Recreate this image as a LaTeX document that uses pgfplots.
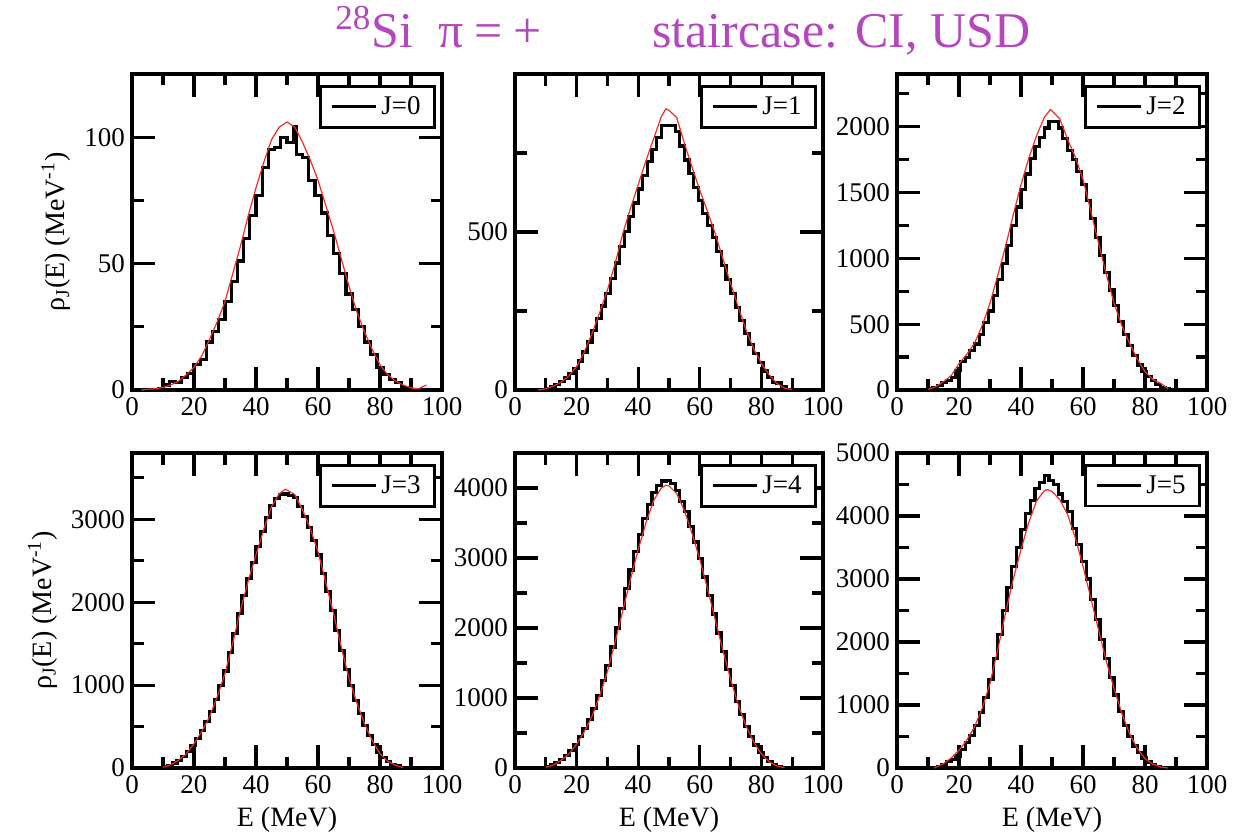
\documentclass[border=0pt]{standalone}
\usepackage{pgfplots}
\pgfplotsset{compat=1.18}
\usepackage{fontspec}
\setmainfont{Liberation Serif}
\definecolor{titlec}{RGB}{180,70,190}
\definecolor{curvered}{RGB}{240,45,35}
\pgfplotsset{
 panel/.style={
  scale only axis, width=155pt, height=158pt, anchor=south west,
  xmin=0, xmax=100, xtick={0,20,...,100}, minor x tick num=1,
  tick align=inside, major tick length=11.5pt, minor tick length=5.75pt,
  every tick/.style={black, line width=1.6pt},
  axis line style={line width=1.6pt},
  tick label style={font=\fontsize{13.5}{15}\selectfont},
  label style={font=\fontsize{14}{16}\selectfont},
  /pgf/number format/assume math mode=true,
  /pgf/number format/1000 sep={},
  scaled y ticks=false,
  legend style={at={(1,1)}, anchor=north east, xshift=-3pt, yshift=-5.5pt,
    draw=black, line width=1.4pt, font=\fontsize{13.5}{15}\selectfont,
    inner xsep=5pt, inner ysep=3pt},
  legend image code/.code={\draw[#1, line width=1.6pt] (0pt,0pt) -- (22pt,0pt);},
 },
 hist/.style={black, line width=1.6pt, const plot, no marks},
 fit/.style={curvered, line width=0.6pt, no marks, forget plot},
}
\begin{document}
\begin{tikzpicture}
\useasboundingbox (0,0) rectangle (620pt,415.5pt);
\node[anchor=base west, text=titlec, font=\fontsize{25}{30}\selectfont, inner sep=0pt] at (167.5pt,391.5pt) {\textsuperscript{28}Si\hspace{0.5em}π\hspace{0.22em}=\hspace{0.22em}+};
\node[anchor=base west, text=titlec, font=\fontsize{25}{30}\selectfont, inner sep=0pt] at (326pt,391.5pt) {staircase: CI, USD};

% J=0
\begin{axis}[panel, at={(66pt,220.5pt)}, ymin=0, ymax=125, ytick={0,50,100}, minor ytick={25,75},
  ylabel={ρ\textsubscript{J}(E) (MeV\textsuperscript{-1})}]
\addplot[hist] coordinates {(8,0.5)(10,2)(12,3.5)(14,3)(16,5)(18,6.5)(20,10)(22,12)(24,19)(26,23)(28,28)(30,35)(32,43)(34,51)(36,60)(38,69)(40,77)(42,88)(44,95)(46,96)(48,100)(50,98)(52,104)(53,93)(55,92)(57,83)(59,77)(61,70)(63,61)(65,54)(67,46)(69,38)(71,32)(73,25)(75,19)(77,14)(79,9)(81,6)(83,4)(85,3)(87,1)(89,0)};
\addlegendentry{J=0}
\addplot[fit] coordinates {(3,0)(5,0.3)(7.5,0.5)(10,1)(12.5,2)(15,3.5)(17.5,6)(20,9)(22.5,13.5)(25,20)(27.5,27)(30,35)(32.5,46)(35,57)(37.5,69)(40,80)(42.5,90)(45,99)(47.5,104)(50,106)(52.5,104)(55,98)(57.5,91)(60,83)(62.5,73)(65,63)(67.5,52)(70,41)(72.5,31)(75,23)(77.5,16)(80,10)(82.5,6)(85,3.5)(87.5,2)(90,0.8)(92.5,0.5)(95,2)};
\end{axis}

% J=1
\begin{axis}[panel, at={(257.5pt,220.5pt)}, width=154pt, ymin=0, ymax=1000, ytick={0,500}, minor ytick={250,750}]
\addplot[hist] coordinates {(10,5)(11.5,10)(13,17)(14.5,26)(16,38)(17.5,52)(19,68)(20.5,92)(22,120)(23.5,152)(25,188)(26.5,226)(28,266)(29.5,306)(31,352)(32.5,402)(34,455)(35.5,502)(37,548)(38.5,592)(40,636)(41.5,680)(43,722)(44.5,762)(46,800)(47.5,836)(49,838)(50.5,838)(52,818)(53.5,772)(55,728)(56.5,685)(58,640)(59.5,600)(61,558)(62.5,520)(64,482)(65.5,438)(67,395)(68.5,350)(70,305)(71.5,262)(73,220)(74.5,180)(76,145)(77.5,115)(79,88)(80.5,60)(82,40)(83.5,25)(85,22)(86.5,10)(88,0)};
\addlegendentry{J=1}
\addplot[fit] coordinates {(7.5,0)(10,4)(12.5,12)(15,25)(17.5,45)(20,74)(22.5,120)(25,179)(27.5,245)(30,316)(32.5,400)(35,495)(37.5,575)(40,650)(42.5,725)(45,795)(47.5,865)(49,890)(50,885)(52.5,862)(55,780)(57.5,705)(60,632)(62.5,565)(65,495)(67.5,415)(70,337)(72.5,262)(75,190)(77.5,130)(80,84)(82.5,48)(85,21)(87.5,6)(90,1)};
\end{axis}

% J=2
\begin{axis}[panel, at={(448.5pt,220.5pt)}, ymin=0, ymax=2400, ytick={0,500,...,2000}, minor ytick={250,750,...,2250}]
\addplot[hist] coordinates {(7,3)(8.5,3)(10,8)(11.5,15)(13,35)(14.5,55)(16,75)(17.5,95)(19,150)(20.5,215)(22,245)(23.5,300)(25,350)(26.5,420)(28,510)(29.5,600)(31,720)(32.5,840)(34,960)(35.5,1100)(37,1250)(38.5,1390)(40,1520)(41.5,1640)(43,1760)(44.5,1850)(46,1920)(47.5,1990)(49,2040)(50.5,2040)(52,1990)(53.5,1910)(55,1820)(56.5,1750)(58,1660)(59.5,1560)(61,1440)(62.5,1300)(64,1160)(65.5,1020)(67,890)(68.5,760)(70,640)(71.5,520)(73,420)(74.5,340)(76,260)(77.5,190)(79,140)(80.5,100)(82,70)(83.5,40)(85,20)(86.5,10)(88,0)};
\addlegendentry{J=2}
\addplot[fit] coordinates {(10,5)(12.5,25)(15,63)(17.5,110)(20,200)(22.5,270)(25,355)(27.5,490)(30,660)(32.5,870)(35,1090)(37.5,1330)(40,1560)(42.5,1760)(45,1930)(47.5,2070)(49.5,2130)(52.5,2060)(55,1905)(57.5,1770)(60,1600)(62.5,1360)(65,1117)(67.5,880)(70,660)(72.5,490)(75,355)(77.5,235)(80,140)(82.5,80)(85,50)(87.5,10)};
\end{axis}

% J=3
\begin{axis}[panel, at={(66pt,31.5pt)}, height=157.5pt, ymin=0, ymax=3800, ytick={0,1000,2000,3000}, minor ytick={500,1500,2500,3500},
  xlabel={E (MeV)}, ylabel={ρ\textsubscript{J}(E) (MeV\textsuperscript{-1})}]
\addplot[hist] coordinates {(10,15)(11.5,35)(13,60)(14.5,95)(16,140)(17.5,200)(19,270)(20.5,360)(22,450)(23.5,560)(25,680)(26.5,830)(28,995)(29.5,1170)(31,1390)(32.5,1620)(34,1860)(35.5,2080)(37,2290)(38.5,2480)(40,2670)(41.5,2850)(43,3020)(44.5,3170)(46,3250)(47.5,3300)(49,3306)(50.5,3290)(52,3260)(53.5,3150)(55,3030)(56.5,2900)(58,2740)(59.5,2570)(61,2350)(62.5,2130)(64,1900)(65.5,1660)(67,1420)(68.5,1190)(70,1000)(71.5,815)(73,660)(74.5,510)(76,390)(77.5,280)(79,185)(80.5,125)(82,75)(83.5,45)(85,25)(86.5,8)(88,0)};
\addlegendentry{J=3}
\addplot[fit] coordinates {(10,10)(12.5,40)(15,93)(17.5,170)(20,294)(22.5,440)(25,616)(27.5,860)(30,1140)(32.5,1510)(35,1905)(37.5,2260)(40,2570)(42.5,2880)(45,3153)(47.5,3310)(49.5,3363)(52.5,3300)(55,3113)(57.5,2890)(60,2610)(62.5,2240)(65,1865)(67.5,1460)(70,1080)(72.5,790)(75,535)(77.5,330)(80,173)(82.5,80)(85,32)(87.5,5)};
\end{axis}

% J=4
\begin{axis}[panel, at={(257.5pt,31.5pt)}, width=154pt, height=157.5pt, ymin=0, ymax=4500, ytick={0,1000,...,4000}, minor ytick={500,1500,...,4500},
  xlabel={E (MeV)}]
\addplot[hist] coordinates {(10,20)(11.5,42)(13,80)(14.5,122)(16,178)(17.5,250)(19,335)(20.5,445)(22,560)(23.5,695)(25,855)(26.5,1035)(28,1245)(29.5,1470)(31,1730)(32.5,2000)(34,2280)(35.5,2560)(37,2830)(38.5,3090)(40,3340)(41.5,3570)(43,3770)(44.5,3940)(46,4040)(47.5,4100)(49,4110)(50.5,4060)(52,3960)(53.5,3810)(55,3670)(56.5,3450)(58,3230)(59.5,2990)(61,2730)(62.5,2470)(64,2200)(65.5,1930)(67,1660)(68.5,1410)(70,1175)(71.5,950)(73,765)(74.5,590)(76,450)(77.5,330)(79,225)(80.5,150)(82,90)(83.5,50)(85,25)(86.5,8)(88,0)};
\addlegendentry{J=4}
\addplot[fit] coordinates {(10,10)(12.5,45)(15,110)(17.5,200)(20,340)(22.5,520)(25,740)(27.5,1030)(30,1380)(32.5,1800)(35,2250)(37.5,2700)(40,3120)(42.5,3500)(45,3820)(47.5,4000)(49,4040)(50,4030)(52.5,3920)(55,3680)(57.5,3350)(60,2980)(62.5,2560)(65,2120)(67.5,1680)(70,1270)(72.5,900)(75,600)(77.5,370)(80,200)(82.5,90)(85,30)(87.5,5)};
\end{axis}

% J=5
\begin{axis}[panel, at={(448.5pt,31.5pt)}, height=157.5pt, ymin=0, ymax=5000, ytick={0,1000,...,5000}, minor ytick={500,1500,...,4500},
  xlabel={E (MeV)}]
\addplot[hist] coordinates {(11.5,10)(13,30)(14.5,60)(16,100)(17.5,130)(19,190)(20.5,300)(22,400)(23.5,520)(25,680)(26.5,880)(28,1120)(29.5,1400)(31,1740)(32.5,2120)(34,2500)(35.5,2860)(37,3200)(38.5,3500)(40,3780)(41.5,4040)(43,4250)(44.5,4440)(46,4530)(47.5,4640)(49,4570)(50.5,4500)(52,4350)(53.5,4230)(55,4070)(56.5,3800)(58,3550)(59.5,3280)(61,3000)(62.5,2680)(64,2360)(65.5,2040)(67,1740)(68.5,1440)(70,1160)(71.5,900)(73,680)(74.5,500)(76,350)(77.5,240)(79,160)(80.5,95)(82,50)(83.5,25)(85,8)(86.5,0)};
\addlegendentry{J=5}
\addplot[fit] coordinates {(12,0)(15,69)(17.5,160)(20,282)(22.5,440)(25,653)(27.5,950)(30,1344)(32.5,1880)(35,2460)(37.5,3000)(40,3469)(42.5,3900)(45,4239)(47.5,4400)(48.5,4420)(50,4390)(52.5,4260)(55,4027)(57.5,3660)(60,3203)(62.5,2700)(65,2194)(67.5,1700)(70,1264)(72.5,870)(75,547)(77.5,310)(80,149)(82.5,60)(85,16)(87.5,0)};
\end{axis}
\end{tikzpicture}
\end{document}
